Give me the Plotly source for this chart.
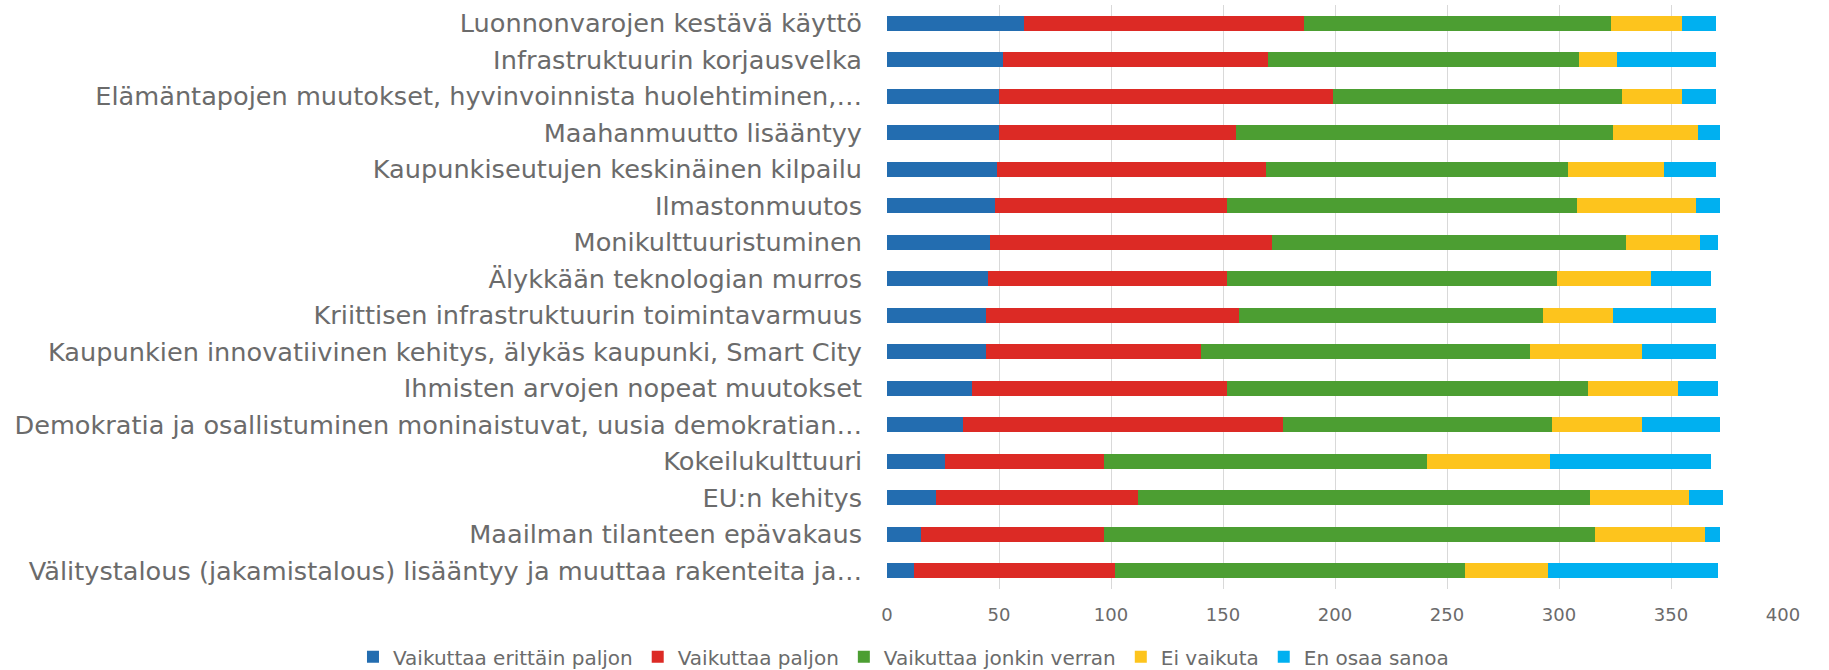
import plotly.graph_objects as go

categories = [
    "Luonnonvarojen kestävä käyttö",
    "Infrastruktuurin korjausvelka",
    "Elämäntapojen muutokset, hyvinvoinnista huolehtiminen,…",
    "Maahanmuutto lisääntyy",
    "Kaupunkiseutujen keskinäinen kilpailu",
    "Ilmastonmuutos",
    "Monikulttuuristuminen",
    "Älykkään teknologian murros",
    "Kriittisen infrastruktuurin toimintavarmuus",
    "Kaupunkien innovatiivinen kehitys, älykäs kaupunki, Smart City",
    "Ihmisten arvojen nopeat muutokset",
    "Demokratia ja osallistuminen moninaistuvat, uusia demokratian…",
    "Kokeilukulttuuri",
    "EU:n kehitys",
    "Maailman tilanteen epävakaus",
    "Välitystalous (jakamistalous) lisääntyy ja muuttaa rakenteita ja…",
]

series_names = [
    "Vaikuttaa erittäin paljon",
    "Vaikuttaa paljon",
    "Vaikuttaa jonkin verran",
    "Ei vaikuta",
    "En osaa sanoa",
]

erittain_paljon = [61, 52, 50, 50, 49, 48, 46, 45, 44, 44, 38, 34, 26, 22, 15, 12]
paljon = [125, 118, 149, 106, 120, 104, 126, 107, 113, 96, 114, 143, 71, 90, 82, 90]
jonkin_verran = [137, 139, 129, 168, 135, 156, 158, 147, 136, 147, 161, 120, 144, 202, 219, 156]
ei_vaikuta = [32, 17, 27, 38, 43, 53, 33, 42, 31, 50, 40, 40, 55, 44, 49, 37]
en_osaa = [15, 44, 15, 10, 23, 11, 8, 27, 46, 33, 18, 35, 72, 15, 7, 76]

x_ticks = [0, 50, 100, 150, 200, 250, 300, 350, 400]

colors = ["#236db0", "#dc2a25", "#4c9e32", "#fdc41d", "#00b0f0"]
values = [erittain_paljon, paljon, jonkin_verran, ei_vaikuta, en_osaa]

fig = go.Figure()
for name, vals, col in zip(series_names, values, colors):
    fig.add_trace(go.Bar(
        y=categories, x=vals, name=name, orientation="h",
        marker=dict(color=col, line=dict(width=0)),
    ))

text_color = "#6b6b6b"
font_family = "DejaVu Sans"
fig.update_layout(
    barmode="stack",
    bargap=0.59,
    width=1829, height=670,
    margin=dict(l=887, r=46, t=5, b=81, autoexpand=False),
    plot_bgcolor="white", paper_bgcolor="white",
    font=dict(family=font_family, color=text_color),
    showlegend=True,
    legend=dict(
        orientation="h", xref="paper", yref="paper",
        x=-0.596, xanchor="left", y=-0.116, yanchor="middle",
        font=dict(size=20, color=text_color), traceorder="normal",
        itemwidth=30, tracegroupgap=0,
    ),
    xaxis=dict(
        range=[0, 400], tickvals=x_ticks, showgrid=True, gridcolor="#d9d9d9",
        gridwidth=1, zeroline=False, showline=False,
        tickfont=dict(size=18, color=text_color), ticklabelstandoff=13,
    ),
    yaxis=dict(
        categoryorder="array", categoryarray=categories, autorange="reversed",
        showgrid=False, zeroline=False, showline=False,
        tickfont=dict(size=25.6, color=text_color), ticklabelstandoff=24,
    ),
)

fig.write_html(
    "out.html",
    config={"displayModeBar": False},
    post_script="document.body.style.margin='0';",
)
